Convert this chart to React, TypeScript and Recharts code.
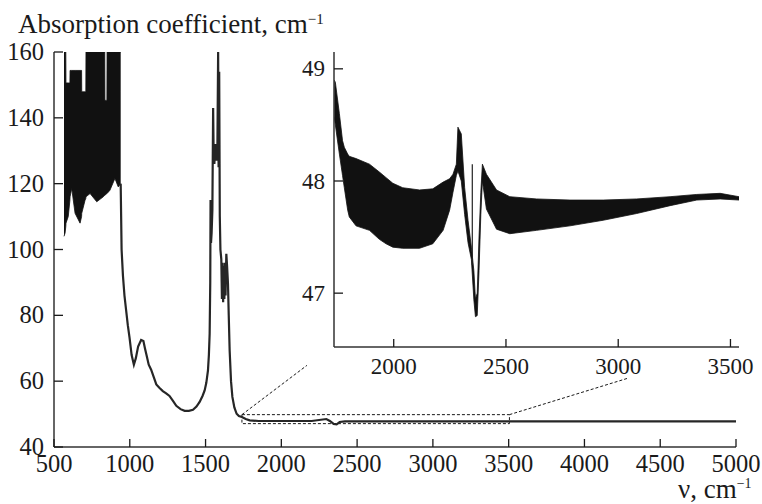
import React from 'react';
import { ComposedChart, Line, Area, XAxis, YAxis, ReferenceArea, ReferenceLine } from 'recharts';

const FONT = '"Liberation Serif", "Times New Roman", serif';
const INK = '#1a1a1a';

// основной спектр (после шумного участка)
const mainNu = [
  940, 946, 955, 965, 976, 987, 998, 1012, 1027, 1040, 1055, 1075, 1090, 1100, 1110, 1125, 1141,
  1160, 1175, 1195, 1218, 1240, 1262, 1285, 1307, 1335, 1362, 1390, 1417, 1440, 1461, 1480, 1494,
  1505, 1516, 1522, 1527, 1531, 1533, 1536, 1540, 1545, 1550, 1553, 1558, 1565, 1572, 1578, 1583,
  1586, 1590, 1594, 1598, 1604, 1608, 1612, 1616, 1620, 1624, 1628, 1632, 1637, 1642, 1648, 1653,
  1659, 1668, 1677, 1690, 1705, 1720, 1740, 1765, 1791, 1850, 2000, 2200, 2297, 2320, 2345, 2365,
  2385, 2420, 2600, 3000, 3500, 4000, 4500, 5000,
];
const mainAbs = [
  120, 100, 92, 86, 81.5, 77, 73.4, 68, 65, 67, 70.5, 72.5, 72.2, 70, 68, 65, 63.5,
  61, 59, 58, 57, 56.3, 55.5, 54, 52.5, 51.5, 51, 51, 51.3, 52.3, 53.7, 55.5, 57.2,
  59.5, 63.3, 68, 74.4, 90, 115, 102, 105, 112, 143, 130, 126, 132, 127, 130, 160,
  125, 154, 110, 100, 97, 85, 96, 84, 95, 85, 96, 86, 98.7, 95, 89.6, 80,
  69.3, 60, 55.2, 52, 50.1, 49.4, 49.1, 48.5, 48.1, 47.9, 47.9, 47.9, 48.5, 47.9, 47.0, 46.9,
  47.6, 47.8, 47.8, 47.8, 47.8, 47.8, 47.8, 47.8,
];

// шумный участок 560–940 см-1: огибающие
const bandNu = [566, 573, 578, 579, 594, 605, 606, 617, 639, 672, 682, 683, 705, 710, 711, 738, 782, 825, 835, 836, 849, 850, 869, 902, 924, 940];
const bandLow = [104, 105, 107, 108, 110, 115, 116, 118.5, 111, 108, 110, 111, 115, 115.5, 116, 117, 114.5, 116, 116.5, 116.5, 117, 117, 118, 121.6, 119, 120];
const bandHigh = [160, 160, 160, 150.6, 150.6, 150.6, 154.4, 154.4, 154.4, 154.4, 154.4, 147.9, 147.9, 147.9, 160, 160, 160, 160, 160, 145.3, 145.3, 160, 160, 160, 160, 160];

// врезка 1750–3550 см-1
const insetNu = [
  1735, 1740, 1758, 1772, 1780, 1795, 1802, 1832, 1892, 1936, 1966, 1996, 2040, 2115, 2174, 2220,
  2249, 2264, 2279, 2286, 2301, 2316, 2331, 2346, 2357, 2364, 2372, 2380, 2388, 2395, 2413, 2458,
  2517, 2636, 2785, 2933, 3082, 3231, 3350, 3454, 3538,
];
const insetHigh = [
  48.9, 48.88, 48.6, 48.36, 48.3, 48.24, 48.22, 48.2, 48.15, 48.08, 48.03, 47.98, 47.94, 47.92, 47.93, 47.99,
  48.02, 48.06, 48.15, 48.48, 48.42, 47.94, 47.65, 47.41, 47.2, 46.95, 47.0, 47.5, 47.9, 48.15, 48.06, 47.92,
  47.86, 47.84, 47.83, 47.83, 47.84, 47.86, 47.88, 47.89, 47.86,
];
const insetLow = [
  48.57, 48.5, 48.24, 48.05, 47.94, 47.74, 47.68, 47.6, 47.56, 47.48, 47.44, 47.41, 47.4, 47.4, 47.44, 47.56,
  47.74, 47.9, 48.05, 48.09, 48.0, 47.7, 47.45, 47.3, 46.94, 46.79, 46.8, 47.2, 47.7, 48.0, 47.75, 47.57,
  47.53, 47.56, 47.6, 47.65, 47.71, 47.78, 47.83, 47.84, 47.83,
];
const spikeNu = [2350, 2350];
const spikeAbs = [48.15, 47.25];

const mainXTicks = [500, 1000, 1500, 2000, 2500, 3000, 3500, 4000, 4500, 5000];
const mainYTicks = [40, 60, 80, 100, 120, 140, 160];
const insetXTicks = [2000, 2500, 3000, 3500];
const insetYTicks = [47, 48, 49];

// рамка увеличенного участка и выноски к врезке
const zoomNu = [1740, 3505];
const zoomAbs = [47.1, 49.83];
const leaderFrom = [[1740, 49.83], [3505, 49.83]];
const leaderTo = [[2169, 64.8], [4287, 60.9]];

const mainData = mainNu.map((nu, i) => ({ nu, a: mainAbs[i] }));
const bandData = bandNu.map((nu, i) => ({ nu, lo: bandLow[i], hi: bandHigh[i] }));
const insetData = insetNu.map((nu, i) => ({ nu, lo: insetLow[i], hi: insetHigh[i] }));
const spikeData = spikeNu.map((nu, i) => ({ nu, a: spikeAbs[i] }));

const xTick = (len: number, dy: number, fs: number) => (p: any) => (
  <g>
    <line x1={p.x} x2={p.x} y1={p.y} y2={p.y - len} stroke={INK} strokeWidth={1.3} />
    <text x={p.x} y={p.y + dy} textAnchor="middle" fontSize={fs} fontFamily={FONT} fill={INK}>
      {p.payload.value}
    </text>
  </g>
);

const yTick = (len: number, gap: number, fs: number) => (p: any) => (
  <g>
    <line x1={p.x} x2={p.x + len} y1={p.y} y2={p.y} stroke={INK} strokeWidth={1.3} />
    <text x={p.x - gap} y={p.y + fs * 0.33} textAnchor="end" fontSize={fs} fontFamily={FONT} fill={INK}>
      {p.payload.value}
    </text>
  </g>
);

const axisLine = { stroke: '#333', strokeWidth: 1.5 };

export default function App() {
  return (
    <div style={{ position: 'absolute', left: 0, top: 0, width: 762, height: 504, background: '#fff' }}>
      <ComposedChart width={762} height={504} data={mainData}
        margin={{ top: 52, right: 26, bottom: 56, left: 53 }}>
        <XAxis dataKey="nu" type="number" domain={[500, 5000]} ticks={mainXTicks} interval={0}
          height={1} tickSize={0} tickMargin={0} tickLine={false} axisLine={axisLine}
          tick={xTick(8, 24.5, 24.5)} allowDataOverflow />
        <YAxis type="number" domain={[40, 160]} ticks={mainYTicks} interval={0}
          width={1} tickSize={0} tickMargin={0} tickLine={false} axisLine={axisLine}
          tick={yTick(9, 10, 24.5)} allowDataOverflow />
        <Area data={bandData} dataKey={(d: any) => [d.lo, d.hi]} type="linear"
          fill="#111" fillOpacity={1} stroke="#111" strokeWidth={0.8} isAnimationActive={false} />
        <Line dataKey="a" type="linear" stroke="#262626" strokeWidth={2.2} dot={false}
          isAnimationActive={false} />
        <ReferenceArea x1={zoomNu[0]} x2={zoomNu[1]} y1={zoomAbs[0]} y2={zoomAbs[1]}
          fill="none" stroke={INK} strokeWidth={1} strokeDasharray="3 2" />
        {leaderFrom.map((f, i) => (
          <ReferenceLine key={i} segment={[{ x: f[0], y: f[1] }, { x: leaderTo[i][0], y: leaderTo[i][1] }]}
            stroke={INK} strokeWidth={1} strokeDasharray="3 2" />
        ))}
      </ComposedChart>

      <div style={{ position: 'absolute', left: 0, top: 0, pointerEvents: 'none' }}>
        <ComposedChart width={762} height={504} data={insetData}
          margin={{ top: 52, right: 23, bottom: 156, left: 333 }}>
          <XAxis dataKey="nu" type="number" domain={[1734, 3538]} ticks={insetXTicks} interval={0}
            height={1} tickSize={0} tickMargin={0} tickLine={false} axisLine={axisLine}
            tick={xTick(8, 27, 23)} allowDataOverflow />
          <YAxis type="number" domain={[46.52, 49.15]} ticks={insetYTicks} interval={0}
            width={1} tickSize={0} tickMargin={0} tickLine={false} axisLine={axisLine}
            tick={yTick(9, 9, 23)} allowDataOverflow />
          <Area dataKey={(d: any) => [d.lo, d.hi]} type="linear"
            fill="#111" fillOpacity={1} stroke="#111" strokeWidth={0.8} isAnimationActive={false} />
          <Line data={spikeData} dataKey="a" type="linear" stroke="#222" strokeWidth={1.2} dot={false}
            isAnimationActive={false} />
        </ComposedChart>
      </div>

      <svg width={762} height={504} style={{ position: 'absolute', left: 0, top: 0, pointerEvents: 'none' }}>
        <text x={18} y={33} fontSize={27} fontFamily={FONT} fill={INK}>
          Absorption coefficient, cm<tspan fontSize={15} dy={-9}>−1</tspan>
        </text>
        <text x={678} y={498} fontSize={27} fontFamily={FONT} fill={INK}>
          ν, cm<tspan fontSize={14} dy={-10}>−1</tspan>
        </text>
      </svg>
    </div>
  );
}
